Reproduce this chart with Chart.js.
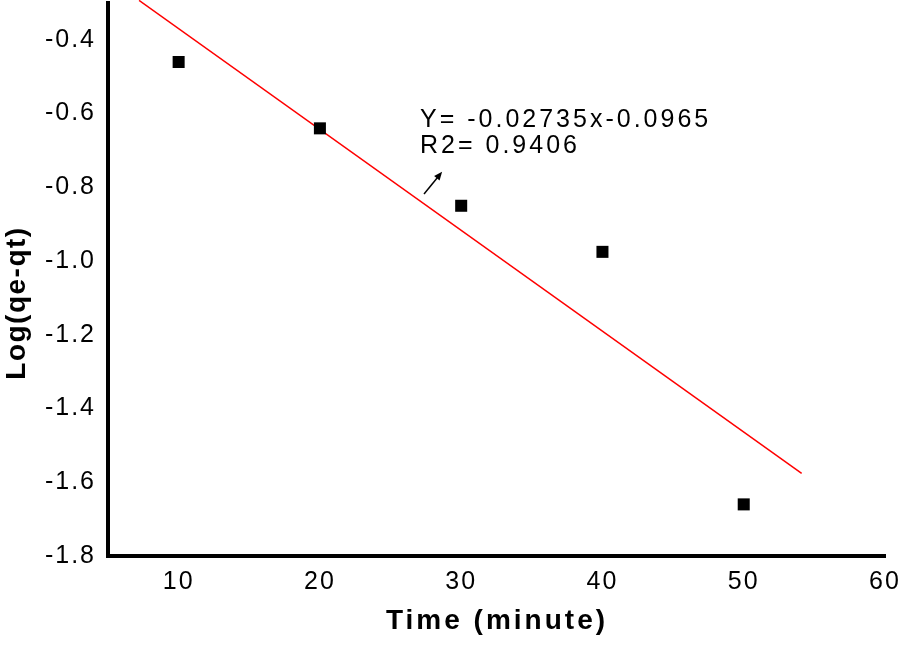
<!DOCTYPE html>
<html>
<head>
<meta charset="utf-8">
<script src="https://cdn.jsdelivr.net/npm/chart.js@4/dist/chart.umd.min.js"></script>
<style>
  html, body { margin: 0; padding: 0; background: #fff; }
  #wrap { width: 898px; height: 645px; }
</style>
</head>
<body>
<div id="wrap"><canvas id="kinetics-chart"></canvas></div>
<script>
// Measured points (time in minutes vs log(qe-qt))
const timeMin = [10, 20, 30, 40, 50];
const logQ = [-0.46, -0.64, -0.85, -0.975, -1.66];

// Ends of the red fitted line
const fitX = [7.2, 54.1];
const fitY = [-0.293, -1.576];

// Tick labels
const xTicks = [10, 20, 30, 40, 50, 60];
const yTicks = [-1.8, -1.6, -1.4, -1.2, -1.0, -0.8, -0.6, -0.4];

// Annotation text and the little arrow (data coords)
const fitLabel = ['Y= -0.02735x-0.0965', 'R2= 0.9406'];
const arrowFrom = [27.37, -0.818];
const arrowTo = [28.65, -0.758];

const FONT = '"Liberation Sans", Arial, sans-serif';

// Draws axis titles, the equation and the arrow
const annotate = {
    id: 'annotate',
    beforeDraw(chart) {
        chart.ctx.letterSpacing = '2px';
    },
    afterDraw(chart) {
        const ctx = chart.ctx;
        const xs = chart.scales.x;
        const ys = chart.scales.y;
        ctx.save();
        ctx.fillStyle = '#000';
        ctx.strokeStyle = '#000';

        // equation
        ctx.font = '25px ' + FONT;
        ctx.letterSpacing = '3px';
        ctx.textAlign = 'left';
        ctx.textBaseline = 'alphabetic';
        ctx.fillText(fitLabel[0], 420, 127);
        ctx.fillText(fitLabel[1], 420, 153);

        // arrow
        const x0 = xs.getPixelForValue(arrowFrom[0]);
        const y0 = ys.getPixelForValue(arrowFrom[1]);
        const x1 = xs.getPixelForValue(arrowTo[0]);
        const y1 = ys.getPixelForValue(arrowTo[1]);
        const ang = Math.atan2(y1 - y0, x1 - x0);
        ctx.lineWidth = 1.5;
        ctx.beginPath();
        ctx.moveTo(x0, y0);
        ctx.lineTo(x1 - 5 * Math.cos(ang), y1 - 5 * Math.sin(ang));
        ctx.stroke();
        ctx.beginPath();
        ctx.moveTo(x1, y1);
        ctx.lineTo(x1 - 9 * Math.cos(ang - 0.4), y1 - 9 * Math.sin(ang - 0.4));
        ctx.lineTo(x1 - 9 * Math.cos(ang + 0.4), y1 - 9 * Math.sin(ang + 0.4));
        ctx.closePath();
        ctx.fill();

        // axis titles
        ctx.font = 'bold 28px ' + FONT;
        ctx.letterSpacing = '3px';
        ctx.textAlign = 'center';
        ctx.fillText('Time (minute)', 497, 629);

        ctx.letterSpacing = '1.5px';
        ctx.translate(25, 303);
        ctx.rotate(-Math.PI / 2);
        ctx.fillText('Log(qe-qt)', 0, 0);
        ctx.restore();
    }
};

const ctx = document.getElementById('kinetics-chart');
const chart = new Chart(ctx, {
    type: 'scatter',
    data: {
        datasets: [{
            label: 'data',
            data: timeMin.map((t, i) => ({ x: t, y: logQ[i] })),
            pointStyle: 'rect',
            pointRadius: 8.5,
            pointBorderWidth: 0,
            backgroundColor: '#000',
            borderColor: '#000'
        }, {
            label: 'fit',
            data: fitX.map((t, i) => ({ x: t, y: fitY[i] })),
            showLine: true,
            borderColor: '#ff0000',
            borderWidth: 1.5,
            pointRadius: 0,
            clip: false
        }]
    },
    options: {
        responsive: true,
        maintainAspectRatio: false,
        animation: false,
        layout: { autoPadding: false, padding: { top: 3, right: 13, left: 0, bottom: 0 } },
        plugins: {
            legend: { display: false },
            tooltip: { enabled: false }
        },
        scales: {
            x: {
                type: 'linear',
                min: 5,
                max: 60,
                afterBuildTicks: s => { s.ticks = xTicks.map(v => ({ value: v })); },
                afterFit: s => { s.height = 89; s.paddingLeft = 0; s.paddingRight = 0; },
                grid: { display: true, color: 'rgba(0,0,0,0)', drawTicks: false },
                border: { display: true, color: '#000', width: 4 },
                ticks: {
                    color: '#000',
                    padding: 11,
                    font: { family: FONT, size: 25 },
                    maxRotation: 0,
                    callback: v => String(v)
                }
            },
            y: {
                type: 'linear',
                min: -1.8,
                max: -0.3,
                afterBuildTicks: s => { s.ticks = yTicks.map(v => ({ value: v })); },
                afterFit: s => { s.width = 108; s.paddingTop = 0; s.paddingBottom = 0; },
                grid: { display: true, color: 'rgba(0,0,0,0)', drawTicks: false },
                border: { display: true, color: '#000', width: 4 },
                ticks: {
                    color: '#000',
                    padding: 12,
                    font: { family: FONT, size: 25 },
                    callback: v => v.toFixed(1)
                }
            }
        }
    },
    plugins: [annotate]
});
</script>
</body>
</html>
